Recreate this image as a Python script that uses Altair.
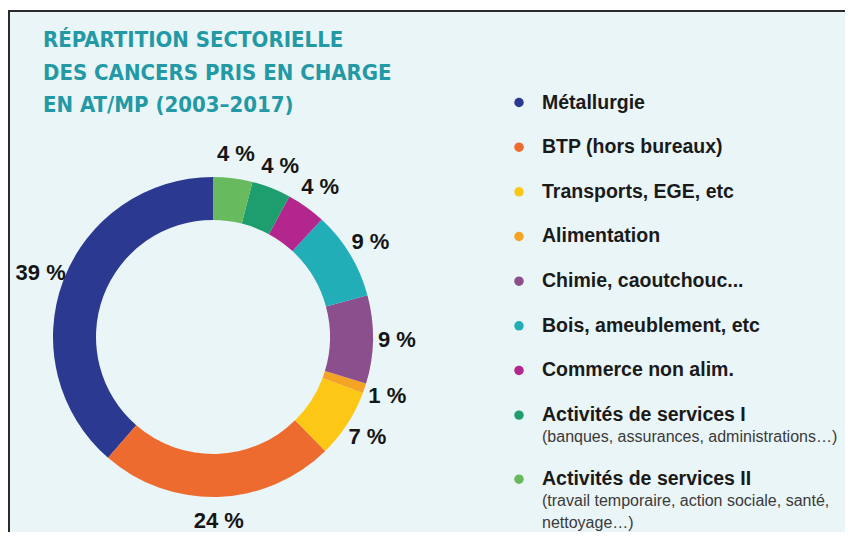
import altair as alt
import pandas as pd

# ---- data ----
categories = [
    "Métallurgie",
    "BTP (hors bureaux)",
    "Transports, EGE, etc",
    "Alimentation",
    "Chimie, caoutchouc...",
    "Bois, ameublement, etc",
    "Commerce non alim.",
    "Activités de services I",
    "Activités de services II",
]
shares = [39, 24, 7, 1, 9, 9, 4, 4, 4]
colors = ["#2B3990", "#EE6B2F", "#FDC716", "#F4A425", "#8A4F8C",
          "#22AEB7", "#B3268E", "#1E9E6E", "#68BA5E"]
# position of each slice, clockwise from 12 o'clock
ring_order = [9, 8, 7, 6, 5, 4, 3, 2, 1]
sub_labels = [[], [], [], [], [], [], [],
              ["(banques, assurances, administrations…)"],
              ["(travail temporaire, action sociale, santé,", "nettoyage…)"]]
title_lines = ["RÉPARTITION SECTORIELLE", "DES CANCERS PRIS EN CHARGE",
               "EN AT/MP (2003–2017)"]

W, H = 837, 524
CX, CY = 205, 329

donut_df = pd.DataFrame({"category": categories, "share": shares, "ring": ring_order})
donut_df["label"] = donut_df["share"].astype(str) + " %"

# legend lines: each main row takes 2 line slots, sub-lines are a bit tighter
rows = []
slot = 0.0
for cat, subs in zip(categories, sub_labels):
    rows.append({"category": cat, "text": cat, "slot": slot, "kind": "main"})
    for j, s in enumerate(subs, 1):
        rows.append({"category": cat, "text": s, "slot": slot + 0.97 * j, "kind": "sub"})
    slot += 2 + 0.87 * len(subs)
legend_df = pd.DataFrame(rows)
max_slot = float(legend_df["slot"].max())

color_scale = alt.Scale(domain=categories, range=colors)
y_scale = alt.Scale(domain=[0, max_slot], range=[94.5, 94.5 + max_slot * 22.33],
                    nice=False, zero=False)

one = pd.DataFrame({"t": [0]})

bg = alt.Chart(one).mark_rect(fill="#EAF5F7", stroke="#2b2b2b", strokeWidth=2).encode(
    x=alt.value(1), x2=alt.value(W + 20), y=alt.value(3), y2=alt.value(H + 20))

base = alt.Chart(donut_df).encode(
    theta=alt.Theta("share:Q", stack=True),
    order=alt.Order("ring:Q", sort="ascending"),
    detail="category:N",
    x=alt.value(CX), y=alt.value(CY),
)
arc = base.mark_arc(innerRadius=117, outerRadius=160).encode(
    color=alt.Color("category:N", scale=color_scale, legend=None))
labels = base.mark_text(radius=184, font="Liberation Sans", fontSize=22,
                        fontWeight="bold", color="#151515").encode(text="label:N")

title = alt.Chart(one).mark_text(
    text=title_lines, align="left", baseline="alphabetic",
    font="DejaVu Sans Condensed", fontSize=22, fontWeight="bold",
    color="#2399A5", lineHeight=32.5,
).encode(x=alt.value(35), y=alt.value(39))

leg = alt.Chart(legend_df)
dots = leg.transform_filter("datum.kind == 'main'").mark_circle(size=90, opacity=1).encode(
    x=alt.value(511),
    y=alt.Y("slot:Q", scale=y_scale, axis=None),
    color=alt.Color("category:N", scale=color_scale, legend=None),
)
leg_main = leg.transform_filter("datum.kind == 'main'").mark_text(
    align="left", baseline="middle", font="Liberation Sans", fontSize=19.5,
    fontWeight="bold", color="#1a1a1a",
).encode(x=alt.value(534), y=alt.Y("slot:Q", scale=y_scale, axis=None), text="text:N")
leg_sub = leg.transform_filter("datum.kind == 'sub'").mark_text(
    align="left", baseline="middle", font="Liberation Sans", fontSize=16,
    color="#3a3a3a",
).encode(x=alt.value(534), y=alt.Y("slot:Q", scale=y_scale, axis=None), text="text:N")

chart = alt.layer(bg, arc, labels, title, dots, leg_main, leg_sub).properties(
    width=W, height=H, autosize=alt.AutoSizeParams(type="none"), padding=0,
).configure(background="white").configure_view(stroke=None)

chart.save("out.html", embed_options={"renderer": "svg", "actions": False})
